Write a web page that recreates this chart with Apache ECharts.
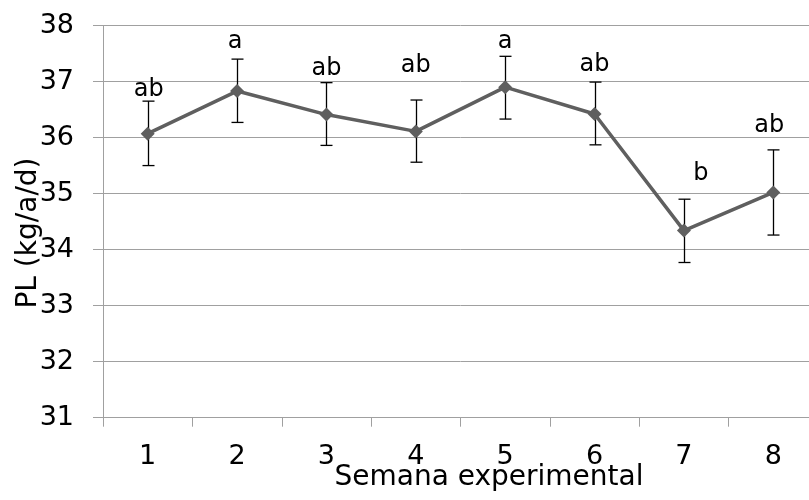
<!DOCTYPE html>
<html>
<head>
<meta charset="utf-8">
<script src="https://cdn.jsdelivr.net/npm/echarts@6/dist/echarts.min.js"></script>
<style>
  html, body { margin: 0; padding: 0; background: #ffffff; overflow: hidden; width: 809px; height: 500px; }
  /* the plot runs a little past the right edge of the window */
  #chart { width: 818px; height: 500px; }
</style>
</head>
<body>
<div id="chart"></div>
<script>
// Weekly PL means (kg/a/d) with their error bar limits and significance letters
const weeks = ['1', '2', '3', '4', '5', '6', '7', '8'];
const means = [36.07, 36.83, 36.41, 36.11, 36.90, 36.42, 34.34, 35.02];
const lower = [35.50, 36.27, 35.86, 35.56, 36.33, 35.87, 33.77, 34.26];
const upper = [36.65, 37.40, 36.98, 36.67, 37.45, 36.99, 34.90, 35.78];
const letters = ['ab', 'a', 'ab', 'ab', 'a', 'ab', 'b', 'ab'];

// Y axis range
const yMin = 31;
const yMax = 38;
const yStep = 1;

// Where each letter's baseline sits (in axis units) and its sideways nudge (px)
const letterBase = [36.72, 37.58, 37.10, 37.15, 37.58, 37.17, 35.23, 36.08];
const letterShift = [1, -2, 0, 0, 0, 0, 17, -4];

const FONT = 'DejaVu Sans';
const chart = echarts.init(document.getElementById('chart'), null, { renderer: 'canvas' });

chart.setOption({
  backgroundColor: '#ffffff',
  animation: false,
  grid: { left: 103, right: 0, top: 25.5, bottom: 82.3, containLabel: false },
  xAxis: {
    type: 'category',
    data: weeks,
    boundaryGap: true,
    axisLine: { show: true, lineStyle: { color: '#a0a0a0', width: 1 } },
    axisTick: { show: true, alignWithLabel: false, length: 9, lineStyle: { color: '#a0a0a0', width: 1 } },
    axisLabel: { color: '#000', fontFamily: FONT, fontSize: 27, margin: 26 },
    splitLine: { show: false }
  },
  yAxis: {
    type: 'value',
    min: yMin,
    max: yMax,
    interval: yStep,
    axisLine: { show: true, lineStyle: { color: '#a0a0a0', width: 1 } },
    axisTick: { show: true, length: 10, lineStyle: { color: '#a0a0a0', width: 1 } },
    axisLabel: { color: '#000', fontFamily: FONT, fontSize: 27, margin: 29 },
    splitLine: { show: true, lineStyle: { color: '#a0a0a0', width: 1 } }
  },
  graphic: [
    {
      type: 'text', x: 489, y: 478, z: 10,
      style: { text: 'Semana experimental', fill: '#000', font: '28px "' + FONT + '"', align: 'center', verticalAlign: 'middle' }
    },
    {
      type: 'text', x: 29, y: 233, rotation: Math.PI / 2, z: 10,
      style: { text: 'PL (kg/a/d)', fill: '#000', font: '28px "' + FONT + '"', align: 'center', verticalAlign: 'middle' }
    }
  ],
  series: [
    {
      // error bars
      type: 'custom',
      z: 2,
      data: weeks.map((w, i) => [i, lower[i], upper[i]]),
      renderItem: function (params, api) {
        const lo = api.coord([api.value(0), api.value(1)]);
        const hi = api.coord([api.value(0), api.value(2)]);
        const x = Math.round(lo[0]) + 0.5;
        const half = 6;
        const st = { stroke: '#000', lineWidth: 1.3 };
        return {
          type: 'group',
          children: [
            { type: 'line', shape: { x1: x, y1: lo[1], x2: x, y2: hi[1] }, style: st },
            { type: 'line', shape: { x1: x - half, y1: hi[1], x2: x + half, y2: hi[1] }, style: st },
            { type: 'line', shape: { x1: x - half, y1: lo[1], x2: x + half, y2: lo[1] }, style: st }
          ]
        };
      }
    },
    {
      type: 'line',
      z: 3,
      data: means,
      symbol: 'diamond',
      symbolSize: 14,
      lineStyle: { color: '#5f5f5f', width: 3.5 },
      itemStyle: { color: '#5f5f5f' }
    },
    {
      // significance letters
      type: 'custom',
      z: 4,
      data: weeks.map((w, i) => [i, letterBase[i]]),
      renderItem: function (params, api) {
        const i = params.dataIndex;
        const p = api.coord([api.value(0), api.value(1)]);
        return {
          type: 'text',
          x: p[0] + letterShift[i],
          y: p[1] + 5,
          style: { text: letters[i], fill: '#000', font: '24px "' + FONT + '"', align: 'center', verticalAlign: 'bottom' }
        };
      }
    }
  ]
});
</script>
</body>
</html>
